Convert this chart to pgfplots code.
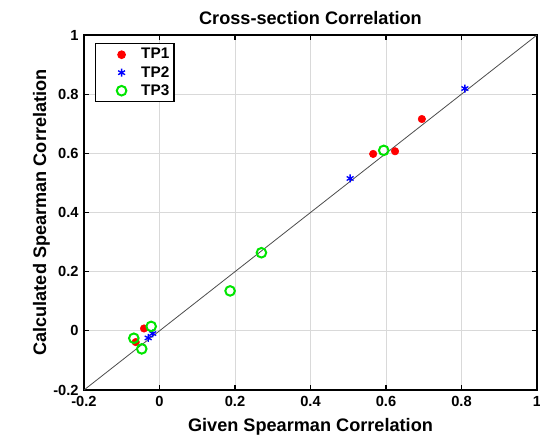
\documentclass[border=0pt]{standalone}
\usepackage{fontspec}
\setmainfont{Liberation Sans}
\usepackage{pgfplots}
\pgfplotsset{compat=1.18}
\begin{document}
\begin{tikzpicture}
\begin{axis}[
  name=ax,
  scale only axis,
  width=339.75pt, height=266.25pt,
  xmin=-0.2, xmax=1, ymin=-0.2, ymax=1,
  xtick={-0.2,0,0.2,0.4,0.6,0.8,1},
  ytick={-0.2,0,0.2,0.4,0.6,0.8,1},
  xticklabels={-0.2,0,0.2,0.4,0.6,0.8,1},
  yticklabels={-0.2,0,0.2,0.4,0.6,0.8,1},
  grid=major,
  major grid style={gray!30, line width=0.6pt},
  axis line style={black, line width=1pt},
  tick style={black, line width=0.8pt},
  tick align=inside,
  major tick length=3.5pt,
  tick label style={font=\bfseries\fontsize{11}{12}\selectfont},
  xticklabel style={yshift=-1pt},
  yticklabel style={xshift=-0.5pt},
  title={\bfseries Cross-section Correlation},
  title style={font=\bfseries\fontsize{13.6}{15}\selectfont, at={(axis description cs:0.5,1.026)}, anchor=center},
  xlabel={\bfseries Given Spearman Correlation},
  ylabel={\bfseries Calculated Spearman Correlation},
  label style={font=\bfseries\fontsize{13.6}{15}\selectfont},
  xlabel style={at={(axis description cs:0.5,-0.103)}, anchor=center},
  ylabel style={at={(axis description cs:-0.094,0.5)}, anchor=center},
  legend style={at={(0.024,0.977)}, anchor=north west, draw=black, line width=0.9pt,
    font=\bfseries\fontsize{11.5}{13}\selectfont, inner sep=1.5pt, row sep=0pt,
    nodes={inner sep=2pt}},
  legend cell align=left,
  legend image code/.code={\path (0cm,0cm) (1.05cm,0cm);
    \draw[#1] plot coordinates {(0.62cm,0cm)};},
]
\addplot[black!70, line width=0.6pt, forget plot] coordinates {(-0.2,-0.2) (1,1)};
\addplot[only marks, mark=*, mark size=2.8pt, color=red, mark options={fill=red, draw=red}]
  coordinates {(0.695,0.716) (0.566,0.598) (0.624,0.607) (-0.041,0.008) (-0.063,-0.038)};
\addlegendentry{TP1}
\addplot[only marks, mark=asterisk, mark size=3pt, color=blue, mark options={line width=1pt}]
  coordinates {(0.809,0.819) (0.505,0.515) (-0.03,-0.024) (-0.018,-0.009)};
\addlegendentry{TP2}
\addplot[only marks, mark=o, mark size=3.6pt, color=green!90!black, mark options={line width=1.5pt}]
  coordinates {(0.594,0.61) (0.27,0.264) (0.187,0.135) (-0.022,0.015) (-0.068,-0.025) (-0.047,-0.061)};
\addlegendentry{TP3}
\end{axis}
\pgfresetboundingbox
\path ([shift={(-63pt,-35.25pt)}]ax.south west) rectangle ([shift={(2.25pt,26.25pt)}]ax.north east);
\end{tikzpicture}
\end{document}
